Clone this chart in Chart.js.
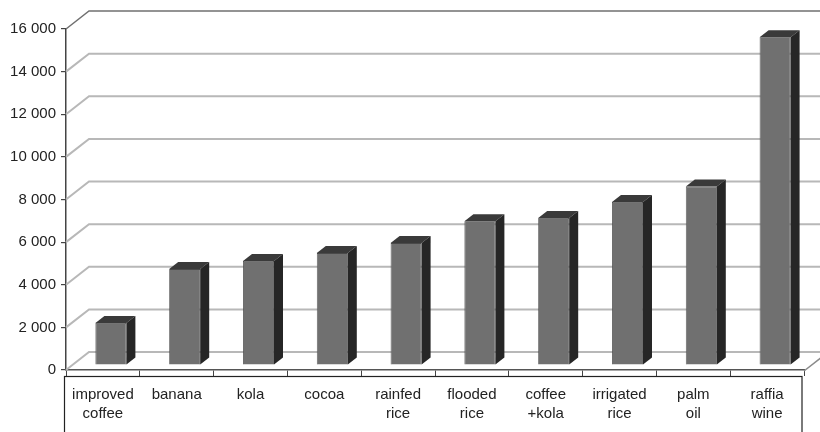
<!DOCTYPE html>
<html><head><meta charset="utf-8">
<script src="https://cdn.jsdelivr.net/npm/chart.js@4/dist/chart.umd.min.js"></script>
<style>html,body{margin:0;padding:0;background:#fff}#wrap{width:820px;height:432px}</style>
</head><body><div id="wrap"><canvas id="c" width="820" height="432"></canvas></div>
<script>
const categories = [["improved","coffee"],"banana","kola","cocoa",["rainfed","rice"],["flooded","rice"],["coffee","+kola"],["irrigated","rice"],["palm","oil"],["raffia","wine"]];
const values = [1970,4500,4880,5250,5720,6750,6900,7650,8380,15380];
const yMin = 0, yMax = 16000, yStep = 2000;

const FONT = '"Liberation Sans", Arial, sans-serif';
const WALL_DX = 23, WALL_DY = -18;   // depth of the back wall
const BAR_DX = 8, BAR_DY = -5;       // bar plane behind the front edge
const BAR_SX = 9, BAR_SY = -7;       // bar depth

const fmt = v => String(v).replace(/\B(?=(\d{3})+(?!\d))/g, ' ');

const threeD = {
  id: 'threeD',
  beforeDatasetsDraw(chart) {
    const {ctx, chartArea: a, scales: {y}} = chart;
    ctx.save();
    y.ticks.forEach(t => {
      const py = y.getPixelForValue(t.value);
      ctx.strokeStyle = t.value === yMax ? '#707070' : '#b8b8b8';
      ctx.lineWidth = t.value === yMax ? 1.5 : 2;
      ctx.beginPath();
      ctx.moveTo(a.left, py);
      ctx.lineTo(a.left + WALL_DX, py + WALL_DY);
      ctx.lineTo(chart.width + 20, py + WALL_DY);
      ctx.stroke();
    });
    ctx.strokeStyle = '#8a8a8a';
    ctx.lineWidth = 1.5;
    ctx.beginPath();
    ctx.moveTo(a.right, a.bottom + 1);
    ctx.lineTo(a.right + WALL_DX, a.bottom + 1 + WALL_DY);
    ctx.stroke();
    ctx.restore();
    ctx.save();
    ctx.translate(BAR_DX, BAR_DY);
  },
  afterDatasetsDraw(chart) {
    const ctx = chart.ctx;
    chart.getDatasetMeta(0).data.forEach(bar => {
      const {x, y, base, width} = bar.getProps(['x', 'y', 'base', 'width'], true);
      const x0 = x - width / 2, x1 = x + width / 2;
      ctx.fillStyle = '#3a3a3a';
      ctx.beginPath();
      ctx.moveTo(x0, y); ctx.lineTo(x0 + BAR_SX, y + BAR_SY);
      ctx.lineTo(x1 + BAR_SX, y + BAR_SY); ctx.lineTo(x1, y); ctx.closePath(); ctx.fill();
      ctx.fillStyle = '#262626';
      ctx.beginPath();
      ctx.moveTo(x1, y); ctx.lineTo(x1 + BAR_SX, y + BAR_SY);
      ctx.lineTo(x1 + BAR_SX, base + BAR_SY); ctx.lineTo(x1, base); ctx.closePath(); ctx.fill();
    });
    ctx.restore();
  },
  afterDraw(chart) {
    const {ctx, chartArea: a} = chart;
    ctx.save();
    ctx.strokeStyle = '#222';
    ctx.lineWidth = 1.2;
    ctx.strokeRect(64.5, a.bottom + 6.5, a.right - 2 - 64.5, 100);
    ctx.restore();
  }
};

new Chart(document.getElementById('c'), {
  type: 'bar',
  data: {
    labels: categories,
    datasets: [{
      data: values,
      backgroundColor: '#707070',
      borderColor: '#4a4a4a',
      borderWidth: 0.8,
      barPercentage: 0.42,
      categoryPercentage: 1
    }]
  },
  options: {
    responsive: false,
    animation: false,
    devicePixelRatio: 1,
    layout: {padding: {top: 29, left: 0, right: 16, bottom: 0}},
    plugins: {legend: {display: false}, tooltip: {enabled: false}},
    scales: {
      x: {
        afterFit(s) { s.height = 62; },
        grid: {offset: true, drawOnChartArea: false, drawTicks: true, tickLength: 6, color: '#444', lineWidth: 1},
        border: {display: true, color: '#555', width: 1.5},
        ticks: {color: '#222', font: {family: FONT, size: 15, lineHeight: 1.27}, padding: 9, maxRotation: 0, autoSkip: false}
      },
      y: {
        min: yMin, max: yMax,
        afterFit(s) { s.width = 66; },
        grid: {drawOnChartArea: false, drawTicks: true, tickLength: 5, color: '#444', lineWidth: 1.2},
        border: {display: true, color: '#444', width: 1.5},
        ticks: {stepSize: yStep, color: '#222', font: {family: FONT, size: 15}, padding: 5, callback: v => fmt(v)}
      }
    }
  },
  plugins: [threeD]
});
</script>
</body></html>
